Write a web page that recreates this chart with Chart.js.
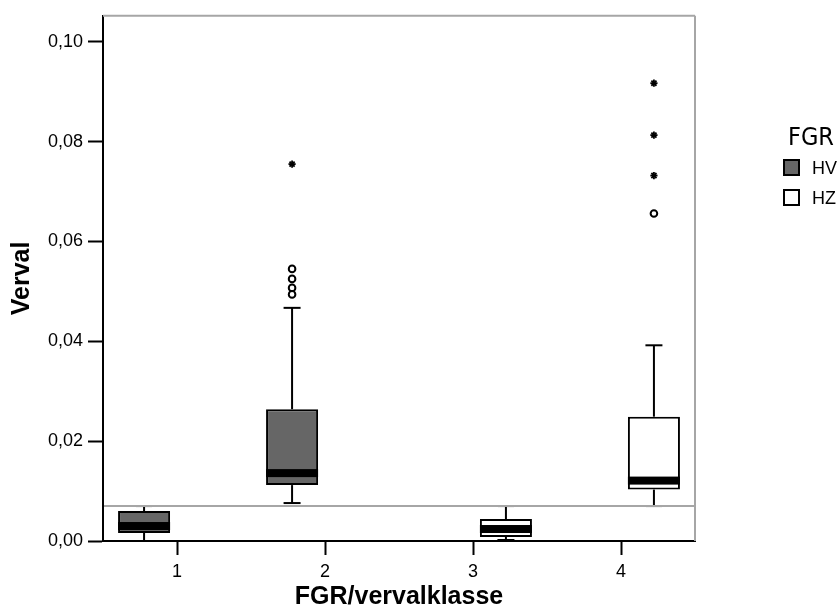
<!DOCTYPE html>
<html>
<head>
<meta charset="utf-8">
<script src="https://cdn.jsdelivr.net/npm/chart.js@4.4.1/dist/chart.umd.min.js"></script>
<style>
  html, body { margin: 0; padding: 0; background: #fff; }
  #wrap { width: 840px; height: 610px; }
</style>
</head>
<body>
<div id="wrap"><canvas id="chart" width="840" height="610"></canvas></div>
<script>
// Categorieën en groepen
const categories = ['1', '2', '3', '4'];
const groups = ['HV', 'HZ'];
const legendTitle = 'FGR';
const xTitle = 'FGR/vervalklasse';
const yTitle = 'Verval';

// Boxplot per groep (null = geen waarnemingen in die klasse)
const hvQ1     = [0.0016, 0.0112, null, null];
const hvQ3     = [0.0060, 0.0264, null, null];
const hvMedian = [0.0030, 0.0136, null, null];
const hvLow    = [0.0000, 0.0076, null, null];
const hvHigh   = [0.0070, 0.0467, null, null];

const hzQ1     = [null, null, 0.0008, 0.0103];
const hzQ3     = [null, null, 0.0044, 0.0249];
const hzMedian = [null, null, 0.0024, 0.0121];
const hzLow    = [null, null, 0.0002, 0.0070];
const hzHigh   = [null, null, 0.0070, 0.0392];

// Uitschieters (o) en extremen (*) per klasse
const hvCircles = [[], [0.0545, 0.0525, 0.0507, 0.0494], [], []];
const hvStars   = [[], [0.0755], [], []];
const hzCircles = [[], [], [], [0.0656]];
const hzStars   = [[], [], [], [0.0917, 0.0813, 0.0732]];

// Referentielijn en y-as
const refValue = 0.007;
const yMax = 0.1052;
const yTickValues = [0, 0.02, 0.04, 0.06, 0.08, 0.10];
const yTickLabels = ['0,00', '0,02', '0,04', '0,06', '0,08', '0,10'];

const COLORS = { hv: '#666666', hz: '#ffffff', line: '#000000', frame: '#a6a6a6' };
const FONT = '"Liberation Sans", Arial, sans-serif';
const NARROW = '"Liberation Sans Narrow", "DejaVu Sans Condensed", sans-serif';

const stats = [
  { q1: hvQ1, q3: hvQ3, median: hvMedian, low: hvLow, high: hvHigh, circles: hvCircles, stars: hvStars },
  { q1: hzQ1, q3: hzQ3, median: hzMedian, low: hzLow, high: hzHigh, circles: hzCircles, stars: hzStars }
];

function line(ctx, x1, y1, x2, y2) {
  ctx.beginPath();
  ctx.moveTo(x1, y1);
  ctx.lineTo(x2, y2);
  ctx.stroke();
}

function drawStar(ctx, x, y, r) {
  for (let a = 0; a < 4; a++) {
    const ang = a * Math.PI / 4;
    line(ctx, x - r * Math.cos(ang), y - r * Math.sin(ang), x + r * Math.cos(ang), y + r * Math.sin(ang));
  }
}

// Snorharen, medianen, uitschieters, referentielijn en kader
const boxPlugin = {
  id: 'boxplot',
  afterDatasetsDraw(chart) {
    const ctx = chart.ctx;
    const ys = chart.scales.y;
    const area = chart.chartArea;
    ctx.save();
    ctx.lineCap = 'butt';
    stats.forEach((s, di) => {
      const meta = chart.getDatasetMeta(di);
      meta.data.forEach((el, i) => {
        if (s.median[i] == null) return;
        const x = el.x, w = el.width;
        const capW = 17;
        ctx.strokeStyle = COLORS.line;
        ctx.lineWidth = 2;
        const yQ1 = ys.getPixelForValue(s.q1[i]);
        const yQ3 = ys.getPixelForValue(s.q3[i]);
        const yLo = ys.getPixelForValue(s.low[i]);
        const yHi = ys.getPixelForValue(s.high[i]);
        line(ctx, x, yQ3, x, yHi);
        line(ctx, x, yQ1, x, yLo);
        line(ctx, x - capW / 2, yHi, x + capW / 2, yHi);
        line(ctx, x - capW / 2, yLo, x + capW / 2, yLo);
        // mediaan als dikke balk
        const yMed = ys.getPixelForValue(s.median[i]);
        ctx.fillStyle = COLORS.line;
        ctx.fillRect(x - w / 2, yMed - 4, w, 8);
        // uitschieters
        s.circles[i].forEach(v => {
          ctx.beginPath();
          ctx.arc(x, ys.getPixelForValue(v), 3.3, 0, Math.PI * 2);
          ctx.fillStyle = '#fff';
          ctx.fill();
          ctx.lineWidth = 2;
          ctx.stroke();
        });
        ctx.lineWidth = 1.8;
        s.stars[i].forEach(v => drawStar(ctx, x, ys.getPixelForValue(v), 3.6));
      });
    });
    // referentielijn
    ctx.strokeStyle = COLORS.frame;
    ctx.lineWidth = 2;
    const yRef = ys.getPixelForValue(refValue);
    line(ctx, area.left + 1, yRef, area.right, yRef);
    // grijs kader boven en rechts
    line(ctx, area.left, area.top, area.right, area.top);
    line(ctx, area.right, area.top, area.right, area.bottom);
    ctx.restore();
  },
  afterDraw(chart) {
    const ctx = chart.ctx;
    const x0 = chart.chartArea.right;
    ctx.save();
    ctx.fillStyle = '#000';
    ctx.textBaseline = 'alphabetic';
    ctx.font = '25px ' + NARROW;
    ctx.fillText(legendTitle, x0 + 93, 145);
    ctx.font = '18px ' + FONT;
    const fills = [COLORS.hv, COLORS.hz];
    groups.forEach((g, i) => {
      const top = 159 + i * 30;
      ctx.fillStyle = fills[i];
      ctx.fillRect(x0 + 89, top + 1, 15, 15);
      ctx.strokeStyle = '#000';
      ctx.lineWidth = 2;
      ctx.strokeRect(x0 + 89, top + 1, 15, 15);
      ctx.fillStyle = '#000';
      ctx.fillText(g, x0 + 117, top + 15);
    });
    ctx.restore();
  }
};

const chart = new Chart(document.getElementById('chart'), {
  type: 'bar',
  data: {
    labels: categories,
    datasets: [
      {
        label: groups[0],
        data: hvQ1.map((q, i) => q == null ? null : [q, hvQ3[i]]),
        backgroundColor: COLORS.hv,
        borderColor: COLORS.line,
        borderWidth: 2,
        borderSkipped: false
      },
      {
        label: groups[1],
        data: hzQ1.map((q, i) => q == null ? null : [q, hzQ3[i]]),
        backgroundColor: COLORS.hz,
        borderColor: COLORS.line,
        borderWidth: 2,
        borderSkipped: false
      }
    ]
  },
  options: {
    responsive: false,
    animation: false,
    events: [],
    categoryPercentage: 0.89,
    barPercentage: 0.79,
    layout: { padding: { top: 12, right: 145, left: 0, bottom: 0 } },
    plugins: {
      legend: { display: false },
      tooltip: { enabled: false }
    },
    scales: {
      x: {
        offset: true,
        grid: {
          display: true,
          drawOnChartArea: false,
          offset: false,
          tickLength: 14,
          tickWidth: 2,
          tickColor: '#000'
        },
        border: { display: true, color: '#000', width: 2 },
        ticks: { color: '#000', padding: 6, font: { family: FONT, size: 18 } },
        title: {
          display: true,
          text: xTitle,
          color: '#000',
          padding: 0,
          font: { family: FONT, size: 25, weight: 'bold', lineHeight: 1 }
        },
        afterFit(scale) { scale.height = 69; }
      },
      y: {
        min: 0,
        max: yMax,
        grid: {
          display: true,
          drawOnChartArea: false,
          tickLength: 15,
          tickWidth: 2,
          tickColor: '#000'
        },
        border: { display: true, color: '#000', width: 2 },
        ticks: {
          color: '#000',
          padding: 5,
          font: { family: FONT, size: 18 },
          callback: (v) => {
            const idx = yTickValues.findIndex(t => Math.abs(t - v) < 1e-9);
            return idx >= 0 ? yTickLabels[idx] : '';
          }
        },
        afterBuildTicks(scale) {
          scale.ticks = yTickValues.map(v => ({ value: v }));
        },
        title: {
          display: true,
          text: yTitle,
          color: '#000',
          padding: { top: 10, bottom: 0 },
          font: { family: FONT, size: 25, weight: 'bold', lineHeight: 1 }
        },
        afterFit(scale) { scale.width = 103; }
      }
    }
  },
  plugins: [boxPlugin]
});
</script>
</body>
</html>
